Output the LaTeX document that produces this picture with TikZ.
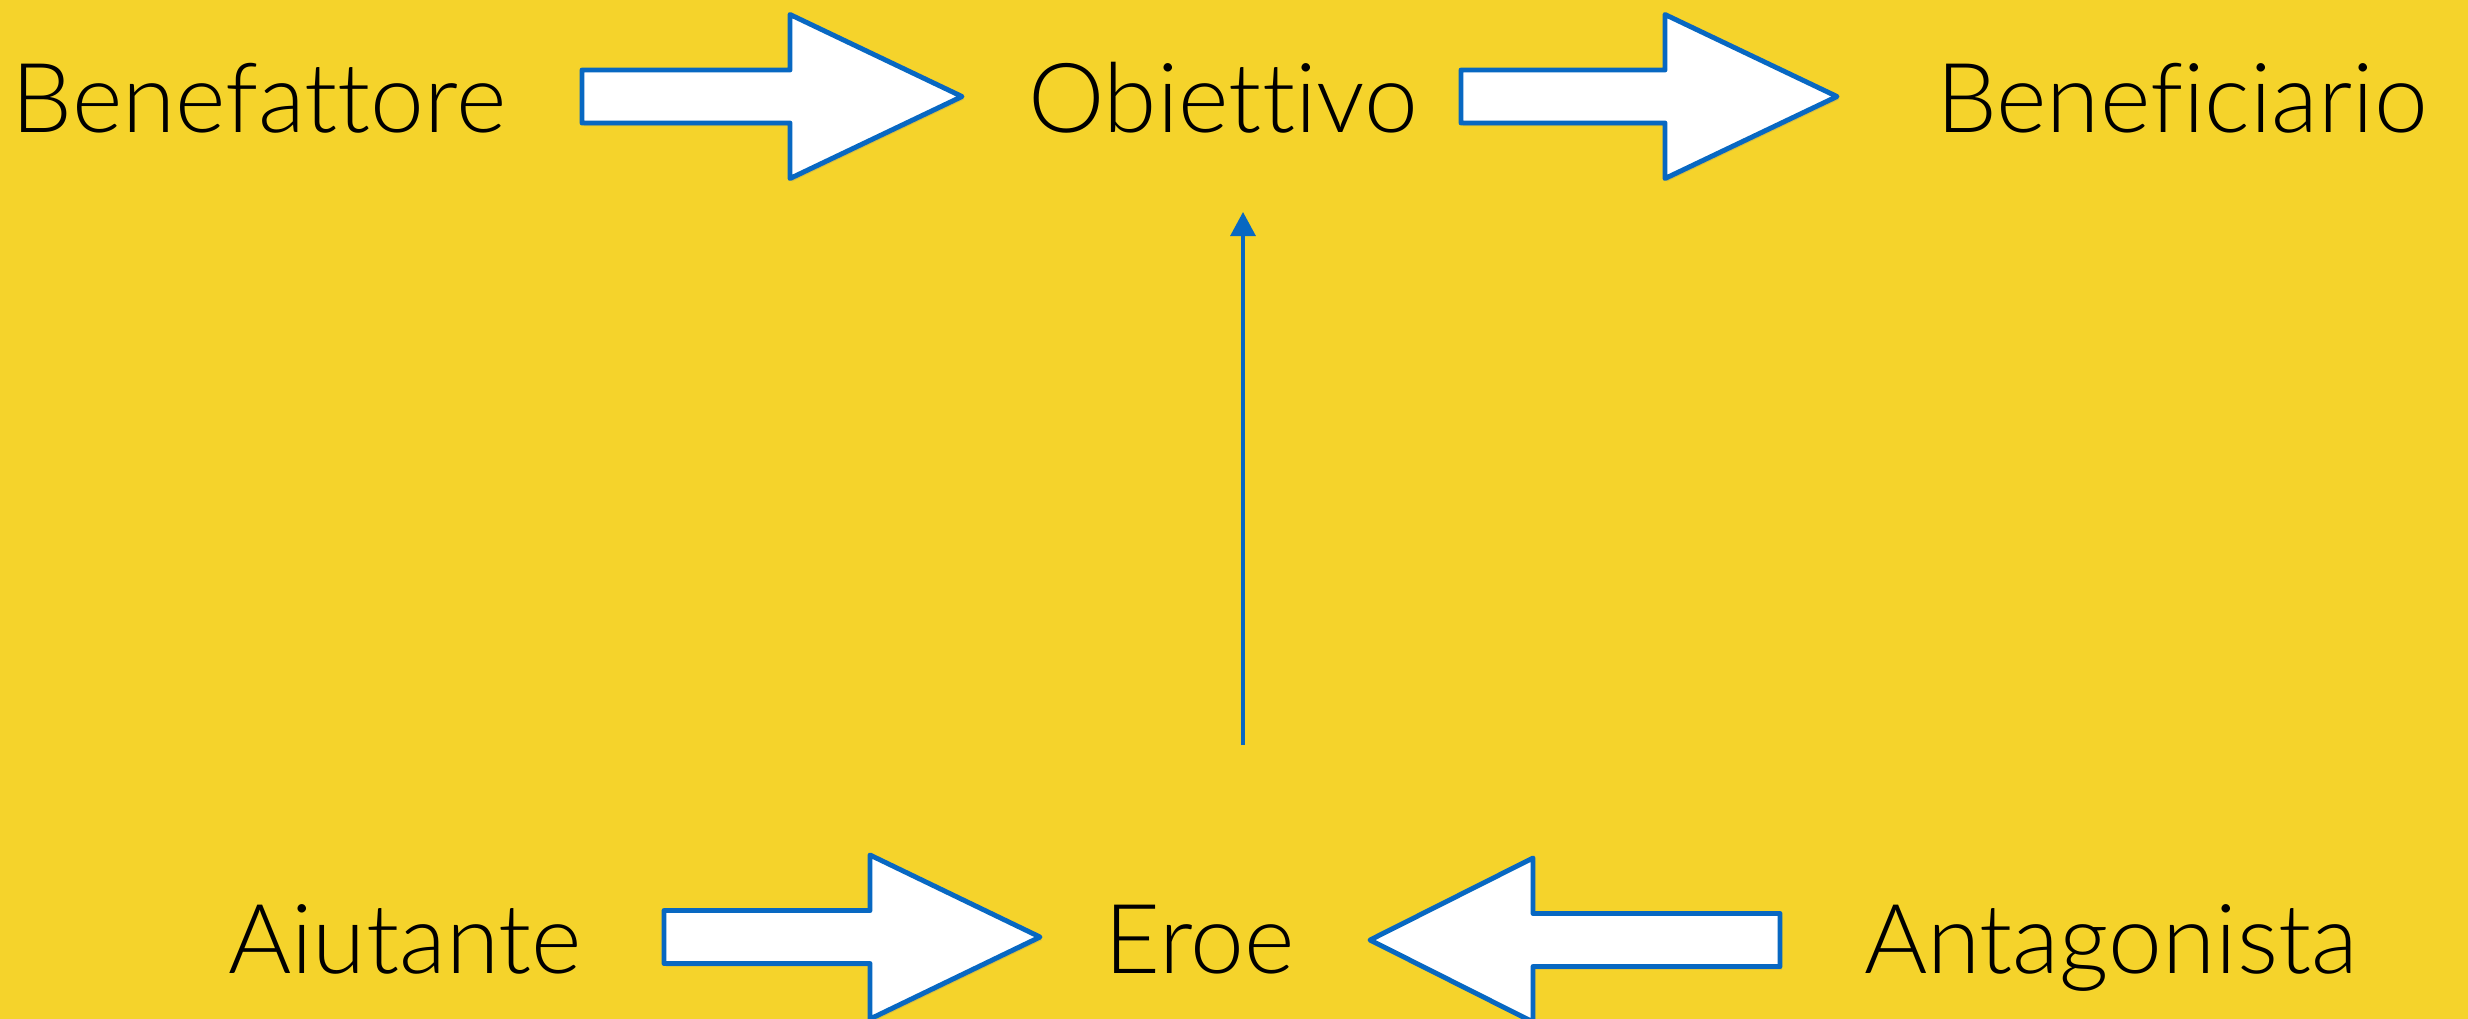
\documentclass[tikz,border=0pt]{standalone}
\usepackage{fontspec}
\setmainfont{Lato Light}[Ligatures=NoCommon]
\usepackage{xcolor}
\usetikzlibrary{arrows.meta,shadows}

\definecolor{sfondo}{RGB}{245,211,43}
\definecolor{bordo}{RGB}{8,104,194}

\tikzset{
    parola/.style={anchor=base, font=\fontsize{27.5}{32}\selectfont, text=black},
    freccione/.style={draw=bordo, fill=white, line width=1.4pt, line join=round,
        drop shadow={opacity=0.25, shadow xshift=0.02, shadow yshift=-0.03}},
    freccina/.style={draw=bordo, line width=0.9pt, -{Triangle[width=0.25cm,length=0.24cm]}}
}

\begin{document}
\begin{tikzpicture}
    \fill [sfondo] (0, 0) rectangle (24.68, -10.19);
    \useasboundingbox (0, 0) rectangle (24.68, -10.19);

    % top row
    \node [parola] (benefattore) at (2.59, -1.32) {Benefattore};
    \node [parola] (obiettivo) at (12.23, -1.32) {Obiettivo};
    \node [parola] (beneficiario) at (21.82, -1.32) {Beneficiario};

    % bottom row
    \node [parola] (aiutante) at (4.05, -9.73) {Aiutante};
    \node [parola] (eroe) at (12.00, -9.73) {Eroe};
    \node [parola] (antagonista) at (21.11, -9.73) {Antagonista};

    % block arrows: tail x / tail y / shaft / head / direction
    \foreach \tx/\ty/\sl/\hl/\d in {5.82/-0.965/2.08/1.72/1, 14.61/-0.965/2.04/1.72/1,
                                   6.64/-9.37/2.06/1.70/1, 17.80/-9.40/2.47/1.63/-1}
        \draw [freccione] (\tx, \ty) ++(0, 0.265) -- ++(\d*\sl, 0) -- ++(0, 0.555)
            -- ++(\d*\hl, -0.82) -- ++(-\d*\hl, -0.82) -- ++(0, 0.555)
            -- ++(-\d*\sl, 0) -- cycle;

    % hero towards goal
    \coordinate (base eroe) at (12.43, -7.45);
    \coordinate (punta obiettivo) at (12.43, -2.12);
    \draw [freccina] (base eroe) -- (punta obiettivo);
\end{tikzpicture}
\end{document}
